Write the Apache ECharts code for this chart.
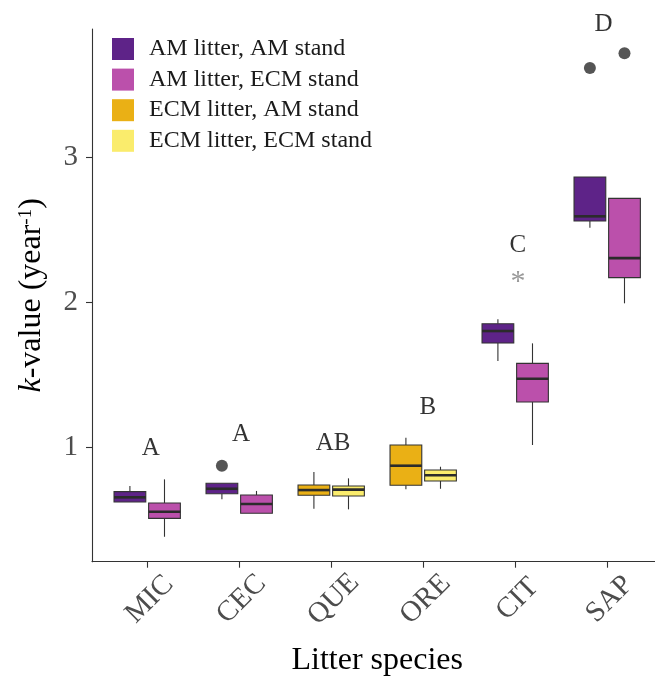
<!DOCTYPE html>
<html>
<head>
<meta charset="utf-8">
<script src="https://cdn.jsdelivr.net/npm/echarts@6/dist/echarts.min.js"></script>
<style>
html,body{margin:0;padding:0;background:#fff;}
#chart{width:655px;height:677px;}
</style>
</head>
<body>
<div id="chart"></div>
<script>
// ---------------- data ----------------
const categories = ['MIC', 'CEC', 'QUE', 'ORE', 'CIT', 'SAP'];
const groupNames = ['AM litter, AM stand', 'AM litter, ECM stand', 'ECM litter, AM stand', 'ECM litter, ECM stand'];
const yTicks = [1, 2, 3];

// box stats: [min, Q1, median, Q3, max]
const amAmCats = ['MIC', 'CEC', 'CIT', 'SAP'];
const amAmStats = [
  [0.620, 0.621, 0.653, 0.692, 0.731],
  [0.639, 0.678, 0.712, 0.750, 0.750],
  [1.593, 1.717, 1.800, 1.850, 1.881],
  [2.512, 2.559, 2.591, 2.862, 2.862]
];
const amEcmCats = ['MIC', 'CEC', 'CIT', 'SAP'];
const amEcmStats = [
  [0.381, 0.508, 0.554, 0.614, 0.777],
  [0.543, 0.543, 0.607, 0.669, 0.697],
  [1.014, 1.310, 1.471, 1.577, 1.715],
  [1.991, 2.168, 2.303, 2.715, 2.715]
];
const ecmAmCats = ['QUE', 'ORE'];
const ecmAmStats = [
  [0.575, 0.667, 0.703, 0.738, 0.828],
  [0.708, 0.736, 0.871, 1.014, 1.064]
];
const ecmEcmCats = ['QUE', 'ORE'];
const ecmEcmStats = [
  [0.570, 0.662, 0.706, 0.731, 0.784],
  [0.712, 0.766, 0.805, 0.841, 0.864]
];

// outliers: [category, value]
const amAmOutliers = [['CEC', 0.871], ['SAP', 3.614]];
const amEcmOutliers = [['SAP', 3.715]];

// significance letters
const letterCats = ['MIC', 'CEC', 'QUE', 'ORE', 'CIT', 'SAP'];
const letterY = [0.993, 1.09, 1.028, 1.276, 2.393, 3.917];
const letterText = ['A', 'A', 'AB', 'B', 'C', 'D'];
const letterShift = [0.04, 0.02, 0.02, 0.05, 0.03, -0.04];
// asterisk mark
const starCat = 'CIT';
const starY = 2.135;

// ---------------- styling ----------------
const colors = ['#5E2388', '#BB50AB', '#EAB015', '#FAEC6C'];
const FONT = '"Liberation Serif", "Times New Roman", serif';
const DODGE = 0.188;
const BOXW = 0.345;
const sides = [-1, 1, -1, 1];

function boxRenderer(side, color) {
  return function (params, api) {
    const x = api.value(0) + side * DODGE;
    const vMin = api.value(1), q1 = api.value(2), med = api.value(3), q3 = api.value(4), vMax = api.value(5);
    const pMin = api.coord([x, vMin]);
    const pQ1 = api.coord([x, q1]);
    const pMed = api.coord([x, med]);
    const pQ3 = api.coord([x, q3]);
    const pMax = api.coord([x, vMax]);
    const w = api.size([BOXW, 0])[0];
    const cx = pMed[0];
    const line = { stroke: '#333333', lineWidth: 1.1 };
    return {
      type: 'group',
      children: [
        { type: 'line', shape: { x1: cx, y1: pQ3[1], x2: cx, y2: pMax[1] }, style: line },
        { type: 'line', shape: { x1: cx, y1: pQ1[1], x2: cx, y2: pMin[1] }, style: line },
        { type: 'rect', shape: { x: cx - w / 2, y: pQ3[1], width: w, height: pQ1[1] - pQ3[1] },
          style: { fill: color, stroke: '#333333', lineWidth: 1.1 } },
        { type: 'line', shape: { x1: cx - w / 2, y1: pMed[1], x2: cx + w / 2, y2: pMed[1] },
          style: { stroke: '#2b2b2b', lineWidth: 2.6 } }
      ]
    };
  };
}

function boxData(cats, stats) {
  return cats.map((c, i) => [categories.indexOf(c)].concat(stats[i]));
}

const allCats = [amAmCats, amEcmCats, ecmAmCats, ecmEcmCats];
const allStats = [amAmStats, amEcmStats, ecmAmStats, ecmEcmStats];

const series = groupNames.map((name, g) => ({
  name: name,
  type: 'custom',
  itemStyle: { color: colors[g] },
  encode: { x: 0, y: [1, 2, 3, 4, 5] },
  renderItem: boxRenderer(sides[g], colors[g]),
  data: boxData(allCats[g], allStats[g]),
  clip: false,
  z: 2
}));

series.push({
  name: 'outliers',
  type: 'scatter',
  symbol: 'circle',
  symbolSize: 12,
  itemStyle: { color: '#2a2a2a' },
  clip: false,
  z: 3,
  data: amAmOutliers.map(o => [categories.indexOf(o[0]) - DODGE, o[1]])
    .concat(amEcmOutliers.map(o => [categories.indexOf(o[0]) + DODGE, o[1]]))
});

series.push({
  name: 'letters',
  type: 'scatter',
  symbolSize: 0,
  clip: false,
  silent: true,
  z: 4,
  label: {
    show: true,
    position: 'inside',
    formatter: p => p.value[2],
    fontFamily: FONT,
    fontSize: 25,
    color: '#000'
  },
  data: letterCats.map((c, i) => [categories.indexOf(c) + letterShift[i], letterY[i], letterText[i]])
});

series.push({
  name: 'star',
  type: 'scatter',
  symbolSize: 0,
  clip: false,
  silent: true,
  z: 4,
  label: {
    show: true,
    position: 'inside',
    formatter: '*',
    fontFamily: FONT,
    fontSize: 30,
    color: '#808080'
  },
  data: [[categories.indexOf(starCat) + 0.03, starY]]
});

const chart = echarts.init(document.getElementById('chart'), null, { renderer: 'canvas' });
chart.setOption({
  animation: false,
  backgroundColor: '#ffffff',
  grid: { left: 92, top: 29, width: 570.4, bottom: 115.3, containLabel: false, outerBoundsMode: 'none' },
  legend: {
    orient: 'vertical',
    left: 112,
    top: 37,
    padding: 0,
    itemWidth: 22,
    itemHeight: 22,
    itemGap: 6.6,
    icon: 'rect',
    selectedMode: false,
    textStyle: { fontFamily: FONT, fontSize: 24, color: '#1a1a1a', padding: [0, 0, 0, 10] },
    data: groupNames.map((n, i) => ({ name: n, itemStyle: { color: colors[i], borderWidth: 0 } }))
  },
  xAxis: {
    type: 'value',
    min: -0.6,
    max: 5.6,
    name: 'Litter species',
    nameLocation: 'middle',
    nameGap: 83,
    nameTextStyle: { fontFamily: FONT, fontSize: 32, color: '#000' },
    axisLine: { show: true, onZero: false, lineStyle: { color: '#333333', width: 1.1 } },
    axisTick: { show: true, length: 6, customValues: [0, 1, 2, 3, 4, 5], lineStyle: { color: '#333333', width: 1.1 } },
    axisLabel: {
      show: true,
      customValues: [0, 1, 2, 3, 4, 5],
      formatter: v => categories[Math.round(v)],
      rotate: 45,
      align: 'center',
      verticalAlign: 'middle',
      margin: 40,
      padding: [7, 0, 0, 7],
      fontFamily: FONT,
      fontSize: 29,
      color: '#4D4D4D'
    },
    splitLine: { show: false }
  },
  yAxis: {
    type: 'value',
    min: 0.209,
    max: 3.883,
    name: '{it|k}-value (year{sup|-1})',
    nameLocation: 'middle',
    nameRotate: 90,
    nameGap: 44,
    nameTextStyle: {
      fontFamily: FONT, fontSize: 32, color: '#000',
      rich: {
        it: { fontFamily: FONT, fontSize: 32, fontStyle: 'italic', color: '#000' },
        sup: { fontFamily: FONT, fontSize: 19, color: '#000', verticalAlign: 'bottom', padding: [0, 0, 12, 0] }
      }
    },
    axisLine: { show: true, onZero: false, lineStyle: { color: '#333333', width: 1.1 } },
    axisTick: { show: true, length: 6, customValues: yTicks, lineStyle: { color: '#333333', width: 1.1 } },
    axisLabel: {
      show: true,
      customValues: yTicks,
      margin: 14,
      fontFamily: FONT,
      fontSize: 29,
      color: '#4D4D4D'
    },
    splitLine: { show: false }
  },
  series: series
});
</script>
</body>
</html>
